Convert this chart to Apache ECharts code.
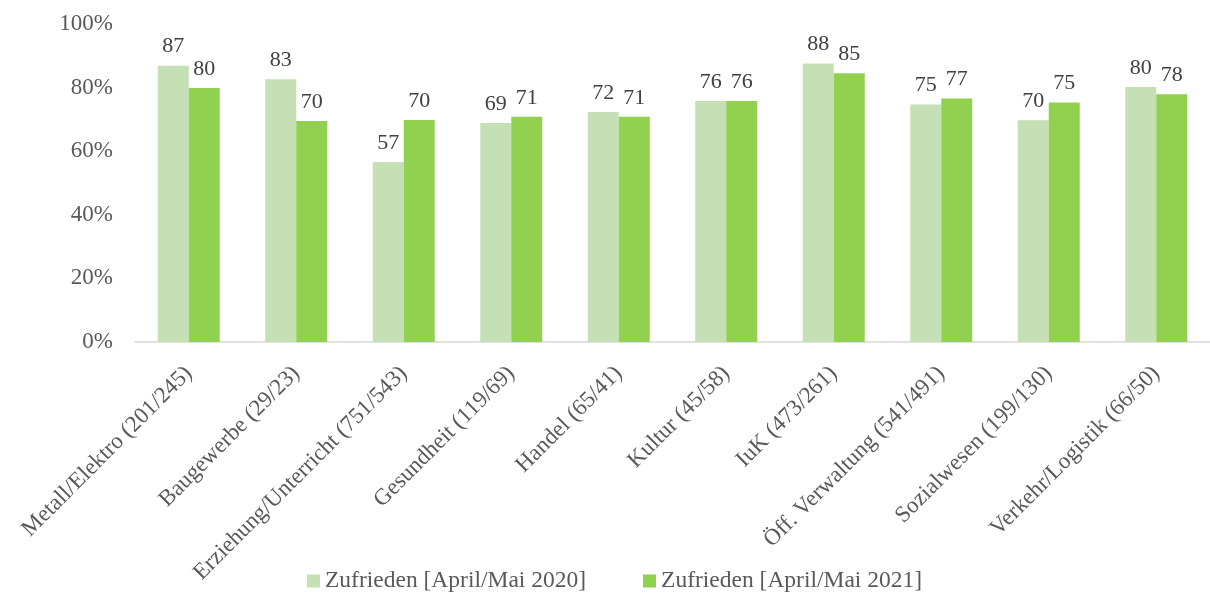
<!DOCTYPE html>
<html>
<head>
<meta charset="utf-8">
<script src="https://cdn.jsdelivr.net/npm/echarts@6/dist/echarts.min.js"></script>
<style>
    html, body { margin: 0; padding: 0; background: #fff; }
    #chart { width: 1210px; height: 595px; }
</style>
</head>
<body>
<div id="chart"></div>
<script>
var categories = [
    'Metall/Elektro (201/245)', 'Baugewerbe (29/23)', 'Erziehung/Unterricht (751/543)',
    'Gesundheit (119/69)', 'Handel (65/41)', 'Kultur (45/58)', 'IuK (473/261)',
    'Öff. Verwaltung (541/491)', 'Sozialwesen (199/130)', 'Verkehr/Logistik (66/50)'
];
var values2020 = [86.9, 82.6, 56.6, 68.9, 72.3, 75.8, 87.6, 74.7, 69.7, 80.2];
var values2021 = [79.9, 69.5, 69.8, 70.8, 70.8, 75.8, 84.5, 76.6, 75.3, 77.9];
var seriesNames = ['Zufrieden [April/Mai 2020]', 'Zufrieden [April/Mai 2021]'];

var font = '"Liberation Serif", "Times New Roman", serif';
var myChart = echarts.init(document.getElementById('chart'));

var labelStyle = {
    show: true,
    position: 'top',
    distance: 8,
    color: '#404040',
    fontFamily: font,
    fontSize: 22,
    formatter: function (p) {
        return Math.round(p.value);
    }
};

var option = {
    animation: false,
    textStyle: {fontFamily: font},
    grid: {left: 135, right: 0, top: 24, bottom: 253, containLabel: false},
    legend: {
        bottom: -3,
        left: 302,
        itemWidth: 13,
        itemHeight: 13,
        itemGap: 57,
        icon: 'rect',
        textStyle: {color: '#595959', fontFamily: font, fontSize: 23.5},
        data: seriesNames
    },
    xAxis: {
        type: 'category',
        data: categories,
        axisLine: {lineStyle: {color: '#d9d9d9', width: 1.5}},
        axisTick: {show: false},
        axisLabel: {
            interval: 0,
            rotate: 45,
            color: '#595959',
            fontFamily: font,
            fontSize: 23,
            margin: 28
        }
    },
    yAxis: {
        type: 'value',
        min: 0,
        max: 100,
        interval: 20,
        splitLine: {show: false},
        axisLine: {show: false},
        axisTick: {show: false},
        axisLabel: {
            color: '#595959',
            fontFamily: font,
            fontSize: 23,
            margin: 22,
            formatter: '{value}%'
        }
    },
    series: [
        {
            name: seriesNames[0],
            type: 'bar',
            barWidth: 31,
            barGap: '0%',
            itemStyle: {color: '#c5e0b4'},
            label: labelStyle,
            data: values2020
        },
        {
            name: seriesNames[1],
            type: 'bar',
            barWidth: 31,
            barGap: '0%',
            itemStyle: {color: '#92d050'},
            label: labelStyle,
            data: values2021
        }
    ]
};
myChart.setOption(option);
</script>
</body>
</html>
